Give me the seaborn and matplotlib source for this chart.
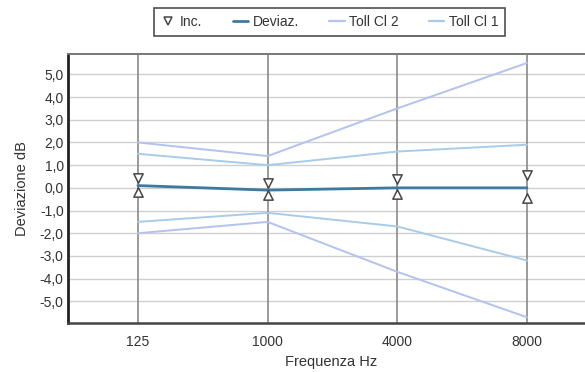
import matplotlib
matplotlib.use("Agg")
import matplotlib.pyplot as plt
from matplotlib.lines import Line2D
import seaborn as sns
import pandas as pd

freqs = ["125", "1000", "4000", "8000"]
deviaz = [0.1, -0.1, 0.0, 0.0]
cl2_upper = [2.0, 1.4, 3.5, 5.5]
cl2_lower = [-2.0, -1.5, -3.7, -5.7]
cl1_upper = [1.5, 1.0, 1.6, 1.9]
cl1_lower = [-1.5, -1.1, -1.7, -3.2]
inc_upper = [0.45, 0.2, 0.4, 0.55]
inc_lower = [-0.2, -0.3, -0.25, -0.45]
yticks = [5, 4, 3, 2, 1, 0, -1, -2, -3, -4, -5]

sns.set_style("white")
plt.rcParams['font.family'] = ['Liberation Sans', 'DejaVu Sans']

c_dev = "#3d7a9e"
c_cl2 = "#b3c2ee"
c_cl1 = "#a9cbea"
c_mark = "#4a4444"

fig = plt.figure(figsize=(5.85, 3.72), dpi=100)
ax = fig.add_axes([0.116, 0.132, 0.90, 0.723])

pos = list(range(len(freqs)))
def df(vals):
    return pd.DataFrame({"x": pos, "y": vals})

for vals in (cl2_upper, cl2_lower):
    sns.lineplot(data=df(vals), x="x", y="y", ax=ax, color=c_cl2, linewidth=1.4, zorder=3)
for vals in (cl1_upper, cl1_lower):
    sns.lineplot(data=df(vals), x="x", y="y", ax=ax, color=c_cl1, linewidth=1.4, zorder=3)
sns.lineplot(data=df(deviaz), x="x", y="y", ax=ax, color=c_dev, linewidth=2.0, zorder=4)
sns.scatterplot(data=df(inc_upper), x="x", y="y", ax=ax, marker="v", s=45,
                facecolor="white", edgecolor=c_mark, linewidth=1.1, zorder=5)
sns.scatterplot(data=df(inc_lower), x="x", y="y", ax=ax, marker="^", s=45,
                facecolor="white", edgecolor=c_mark, linewidth=1.1, zorder=5)

ax.set_xlim(-0.54, 3.52)
ax.set_ylim(-5.95, 5.9)
ax.set_xticks(pos)
ax.set_xticklabels(freqs)
ax.set_yticks(yticks)
ax.set_yticklabels([f"{v:.1f}".replace(".", ",") for v in yticks])
for v in yticks:
    ax.axhline(v, color="#d0d0d0", linewidth=1.0, zorder=1)
for p in pos:
    ax.axvline(p, color="#8a8a8a", linewidth=1.2, zorder=2)

ax.tick_params(axis="both", labelsize=10, colors="#333333", length=0, pad=3)
ax.tick_params(axis="x", pad=9)
ax.set_xlabel("Frequenza Hz", fontsize=10.5, color="#333333", labelpad=4)
ax.set_ylabel("Deviazione dB", fontsize=10.5, color="#333333", labelpad=8)

ax.spines["left"].set_linewidth(2.0)
ax.spines["left"].set_color("#222222")
ax.spines["bottom"].set_linewidth(1.8)
ax.spines["bottom"].set_color("#444444")
ax.spines["top"].set_linewidth(1.4)
ax.spines["top"].set_color("#777777")
ax.spines["right"].set_visible(False)

handles = [
    Line2D([], [], linestyle="none", marker="v", markersize=6, markerfacecolor="white",
           markeredgecolor=c_mark, markeredgewidth=1.1),
    Line2D([], [], color=c_dev, linewidth=2.0),
    Line2D([], [], color=c_cl2, linewidth=1.6),
    Line2D([], [], color=c_cl1, linewidth=1.6),
]
labels = ["Inc.", "Deviaz.", "Toll Cl 2", "Toll Cl 1"]
leg = fig.legend(handles, labels, loc="center", bbox_to_anchor=(0.563, 0.94), ncol=4,
                 fontsize=10, frameon=True, fancybox=False, handlelength=1.1,
                 handletextpad=0.3, columnspacing=2.2, borderpad=0.5)
leg.get_frame().set_edgecolor("#222222")
leg.get_frame().set_linewidth(1.2)
for t in leg.get_texts():
    t.set_color("#333333")

fig.savefig("out.png", dpi=100)
